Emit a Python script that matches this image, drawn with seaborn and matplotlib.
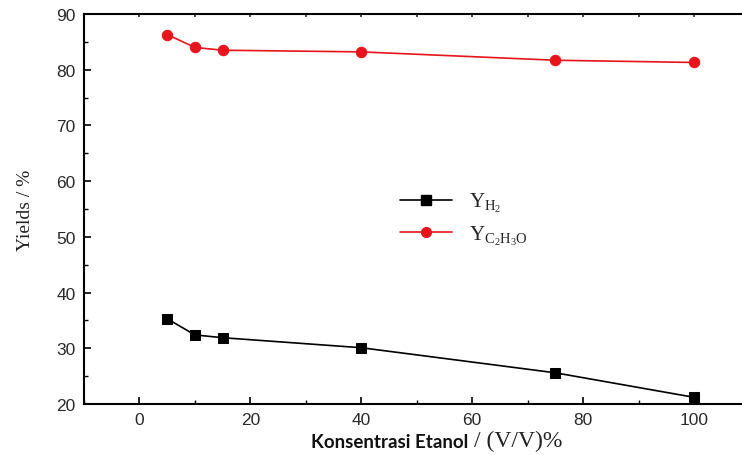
import matplotlib
matplotlib.use("Agg")
import matplotlib.pyplot as plt
import seaborn as sns
import pandas as pd
from matplotlib.ticker import MultipleLocator
from matplotlib.lines import Line2D

# Data
konsentrasi = [5, 10, 15, 40, 75, 100]
y_h2 = [35.3, 32.4, 31.9, 30.1, 25.6, 21.2]
y_c2h3o = [86.3, 84.0, 83.5, 83.2, 81.7, 81.3]
label_h2 = r'$\mathrm{Y}_{\mathrm{H}_2}$'
label_c2h3o = r'$\mathrm{Y}_{\mathrm{C_2H_3O}}$'

sns.set_theme(style="white")
plt.rcParams['font.family'] = ['Liberation Sans', 'DejaVu Sans']
plt.rcParams['mathtext.fontset'] = 'custom'
plt.rcParams['mathtext.rm'] = 'Liberation Serif'
plt.rcParams['mathtext.it'] = 'Liberation Serif:italic'

df_h2 = pd.DataFrame({"x": konsentrasi, "y": y_h2})
df_c = pd.DataFrame({"x": konsentrasi, "y": y_c2h3o})

W, H = 742, 456
fig = plt.figure(figsize=(W / 100, H / 100), dpi=100)
left, right, top, bottom = 84, 749.5, 15, 405
ax = fig.add_axes([left / W, (H - bottom) / H, (right - left) / W, (bottom - top) / H])

sns.lineplot(data=df_h2, x="x", y="y", ax=ax, color="black", marker="s",
             markersize=7.5, markeredgecolor="black", linewidth=1.2)
sns.lineplot(data=df_c, x="x", y="y", ax=ax, color="#e8141b", marker="o",
             markersize=7.5, markeredgecolor="#e8141b", linewidth=1.2)

ax.set_xlim(-10, 110)
ax.set_ylim(20, 90)
ax.xaxis.set_major_locator(MultipleLocator(20))
ax.xaxis.set_minor_locator(MultipleLocator(10))
ax.yaxis.set_major_locator(MultipleLocator(10))
ax.yaxis.set_minor_locator(MultipleLocator(5))
ax.tick_params(axis='both', which='major', direction='in', length=5, width=1.2,
               color='black', labelsize=12.5, labelcolor='#2a2a2a', pad=6)
ax.tick_params(axis='both', which='minor', direction='in', length=3, width=1.0, color='black')
ax.tick_params(axis='x', which='both', bottom=True, top=False)
ax.tick_params(axis='y', which='both', left=True, right=False)

for s in ['left', 'bottom', 'top']:
    ax.spines[s].set_linewidth(1.5)
    ax.spines[s].set_color('black')
ax.spines['right'].set_visible(False)

sec = ax.secondary_xaxis('top')
sec.set_xticks(list(range(0, 110, 10)))
sec.tick_params(direction='in', length=2, width=1.2, labeltop=False)
sec.spines['top'].set_visible(False)

ax.set_xlabel("")
ax.set_ylabel("Yields / %", family=['Liberation Serif'], fontsize=14, color='#222222', labelpad=16)

fig.text(390 / W, 1 - 443 / H, "Konsentrasi Etanol", family=['Lato', 'DejaVu Sans'],
         fontweight='bold', fontsize=13.5, ha='center', va='center', color='#111111')
fig.text(474 / W, 1 - 441 / H, "/ (V/V)%", family=['Liberation Serif'],
         fontsize=17, ha='left', va='center', color='#222222')

handles = [
    Line2D([], [], color='black', marker='s', markersize=6.5, linewidth=1.2),
    Line2D([], [], color='#e8141b', marker='o', markersize=7, linewidth=1.2),
]
ax.legend(handles, [label_h2, label_c2h3o], loc='center left',
          bbox_to_anchor=(0.4465, 0.475), frameon=False, fontsize=15,
          handlelength=2.5, labelspacing=0.45, handletextpad=0.8)

fig.savefig("out.png", dpi=100)
